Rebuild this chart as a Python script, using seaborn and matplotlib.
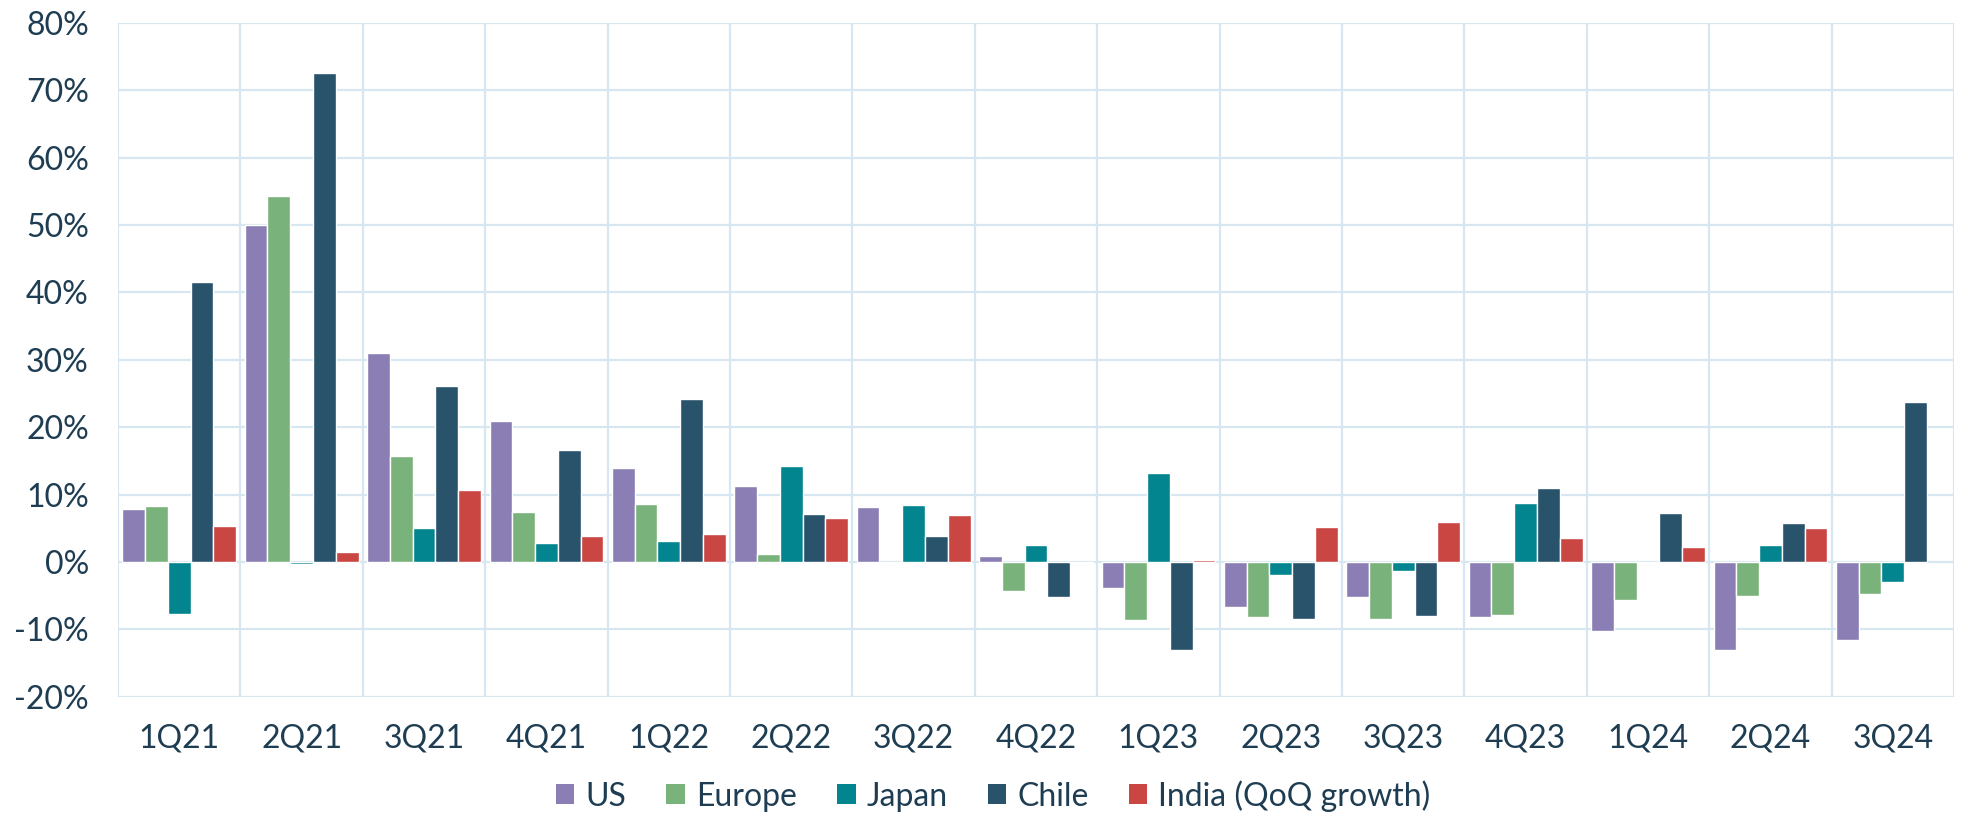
import numpy as np
import pandas as pd
import matplotlib
matplotlib.use("Agg")
import matplotlib.pyplot as plt
import seaborn as sns
from matplotlib.ticker import FuncFormatter, MultipleLocator, FixedLocator

quarters = ["1Q21", "2Q21", "3Q21", "4Q21", "1Q22", "2Q22", "3Q22", "4Q22",
            "1Q23", "2Q23", "3Q23", "4Q23", "1Q24", "2Q24", "3Q24"]

us = [7.9, 50.0, 31.0, 20.9, 14.0, 11.3, 8.2, 0.9,
      -3.8, -6.7, -5.2, -8.1, -10.2, -13.1, -11.6]
europe = [8.3, 54.3, 15.8, 7.5, 8.6, 1.2, -0.1, -4.3,
          -8.6, -8.1, -8.4, -7.9, -5.6, -5.0, -4.7]
japan = [-7.7, -0.3, 5.0, 2.8, 3.1, 14.2, 8.5, 2.6,
         13.2, -1.9, -1.3, 8.8, -0.2, 2.6, -3.0]
chile = [41.5, 72.6, 26.2, 16.7, 24.2, 7.1, 3.8, -5.2,
         -13.0, -8.5, -8.0, 11.0, 7.3, 5.8, 23.8]
india = [5.4, 1.5, 10.7, 3.8, 4.2, 6.6, 7.0, -0.1,
         0.3, 5.2, 5.9, 3.6, 2.2, 5.1, np.nan]

series_names = ["US", "Europe", "Japan", "Chile", "India (QoQ growth)"]
series_values = [us, europe, japan, chile, india]
colors = ["#8B7EB5", "#79B27A", "#038590", "#29526B", "#C94642"]

rows = []
for name, vals in zip(series_names, series_values):
    for q, v in zip(quarters, vals):
        rows.append({"quarter": q, "series": name, "value": v})
df = pd.DataFrame(rows).dropna()

text_color = "#1E3D52"
grid_color = "#D6E7F1"

sns.set_style("white")
plt.rcParams["font.family"] = ["Lato", "DejaVu Sans"]

fig = plt.figure(figsize=(19.67, 8.17), dpi=100)
ax = fig.add_axes([0.060, 0.147, 0.9334, 0.825])

sns.barplot(data=df, x="quarter", y="value", hue="series",
            order=quarters, hue_order=series_names, palette=colors,
            saturation=1, width=0.93, edgecolor="white", linewidth=1.0,
            errorbar=None, ax=ax, zorder=3)

ax.set_ylim(-20, 80)
ax.set_xlim(-0.5, len(quarters) - 0.5)
ax.yaxis.set_major_locator(MultipleLocator(10))
ax.yaxis.set_major_formatter(FuncFormatter(lambda v, p: f"{v:.0f}%"))
ax.xaxis.set_minor_locator(FixedLocator(np.arange(-0.5, len(quarters), 1.0)))

ax.grid(axis="y", which="major", color=grid_color, linewidth=1.6, zorder=0)
ax.grid(axis="x", which="minor", color=grid_color, linewidth=1.6, zorder=0)
ax.grid(axis="x", which="major", visible=False)
ax.set_axisbelow(True)
for s in ax.spines.values():
    s.set_visible(False)

ax.tick_params(axis="both", which="both", length=0, labelsize=23,
               labelcolor=text_color)
ax.tick_params(axis="y", pad=21)
ax.tick_params(axis="x", pad=19)
ax.set_xlabel("")
ax.set_ylabel("")

handles, labels = ax.get_legend_handles_labels()
if ax.legend_:
    ax.legend_.remove()
leg = fig.legend(handles, labels, loc="center", bbox_to_anchor=(0.505, 0.026),
                 ncol=5, frameon=False, fontsize=23,
                 handlelength=0.58, handleheight=0.58, handletextpad=0.35,
                 columnspacing=1.25, borderaxespad=0)
for t in leg.get_texts():
    t.set_color(text_color)
for h in leg.legend_handles:
    h.set_edgecolor("none")

fig.savefig("out.png", dpi=100)
